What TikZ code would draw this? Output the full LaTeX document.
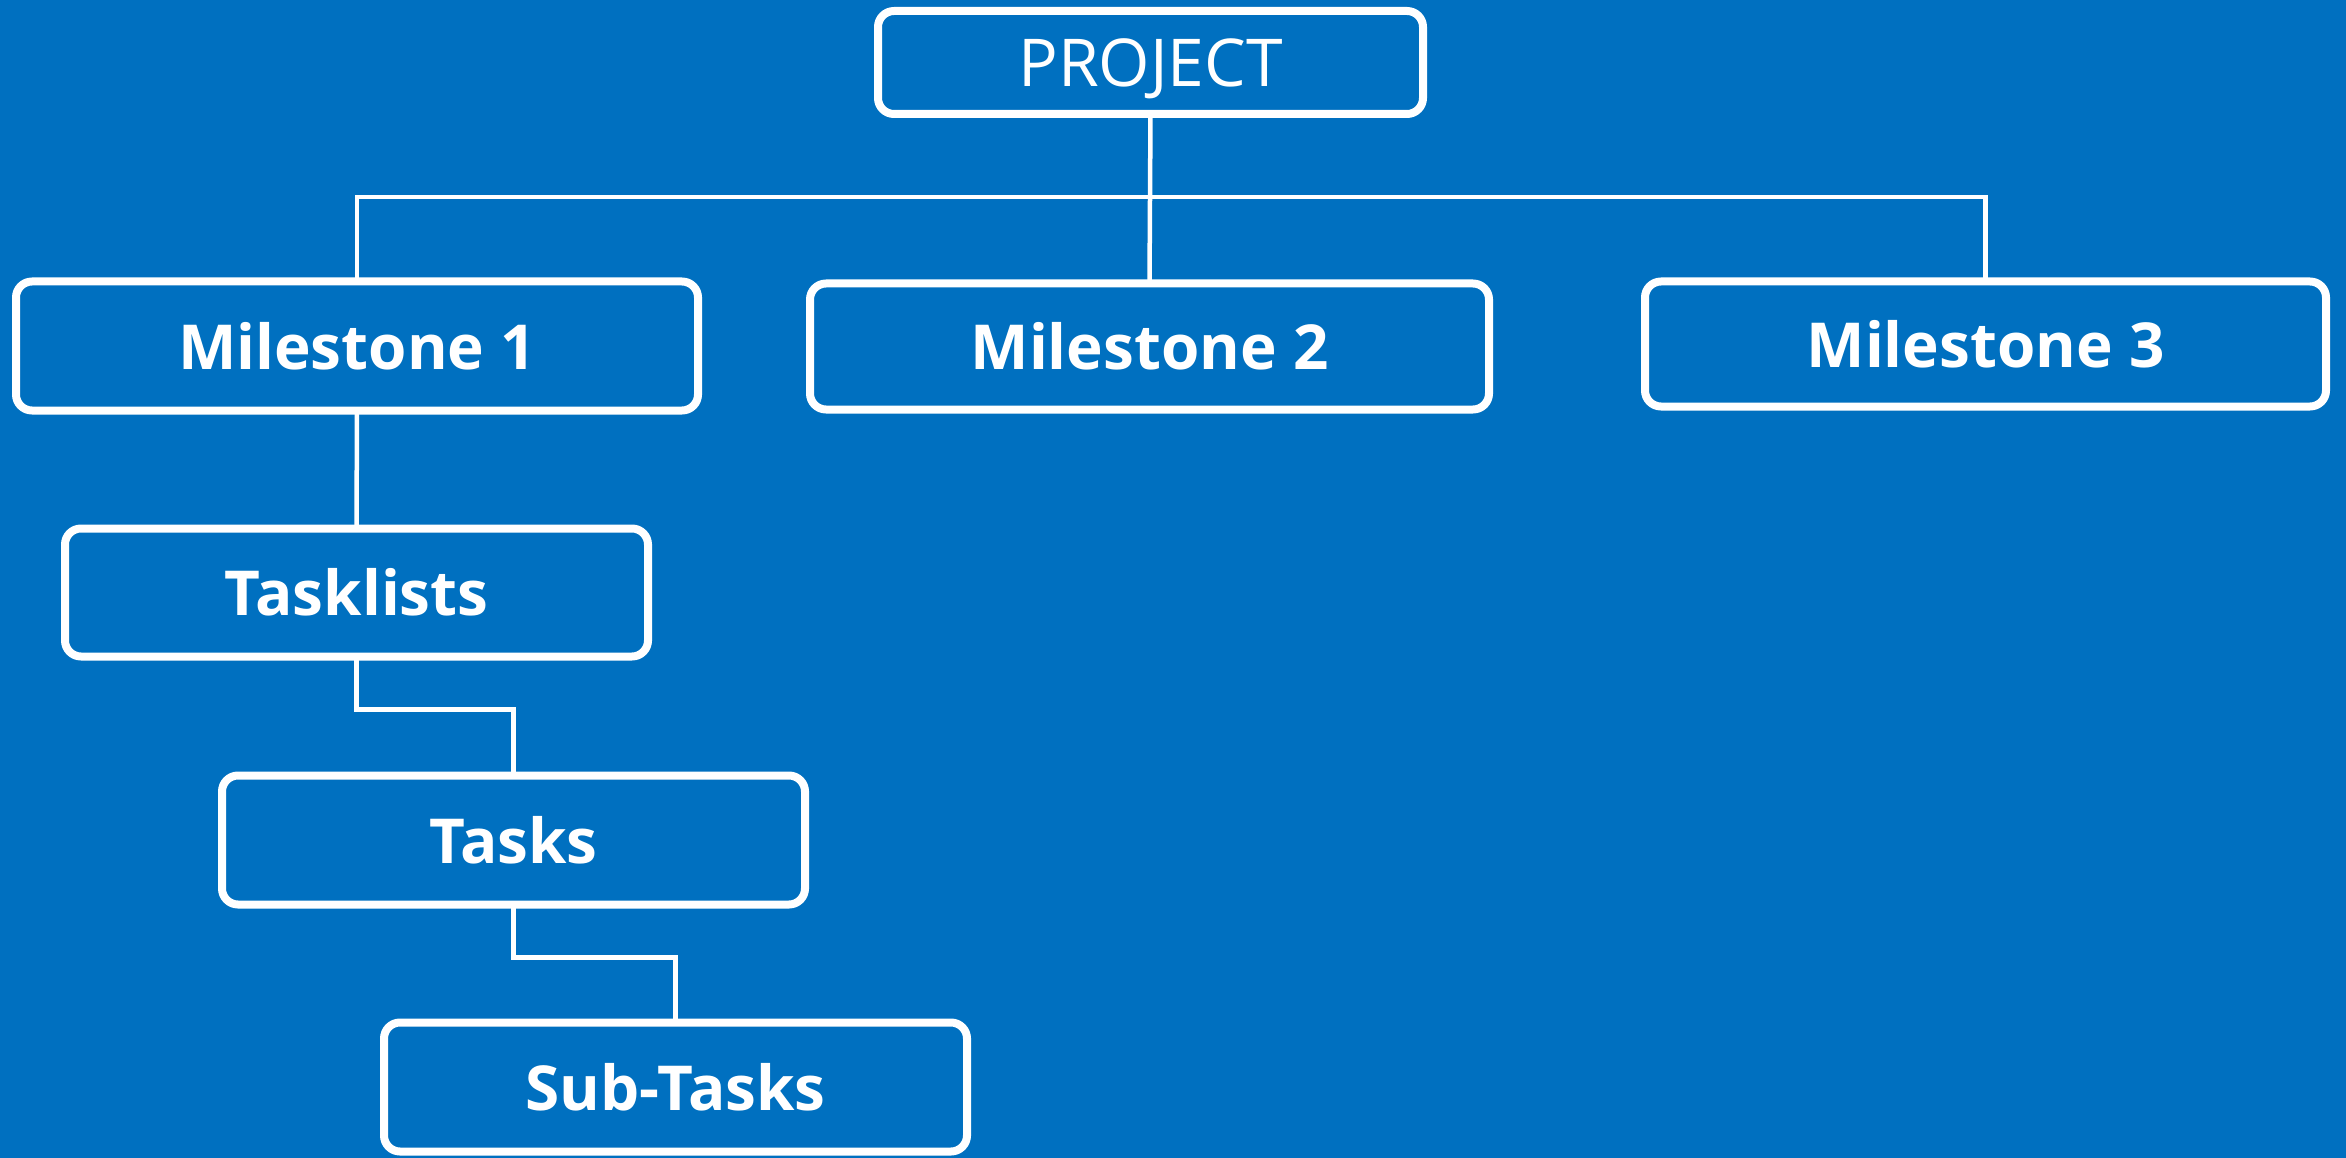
\documentclass[tikz,border=0pt]{standalone}
\usepackage{fontspec}
\setmainfont{Open Sans}
\usetikzlibrary{calc}
\definecolor{bgblue}{RGB}{0,112,192}
\begin{document}
\begin{tikzpicture}[x=1pt,y=-1pt,
  box/.style={draw=white,line width=8pt,rounded corners=16pt,fill=bgblue,text=white,inner sep=0pt,anchor=center},
  boldlbl/.style={font=\fontsize{62}{70}\selectfont\bfseries},
  wire/.style={draw=white,line width=4.5pt}]
\fill[bgblue] (0,0) rectangle (2346,1158);
\useasboundingbox (0,0) rectangle (2346,1158);
\node[box,minimum width=545pt,minimum height=103pt,text depth=0pt,font=\fontsize{66}{72}\selectfont] (proj) at (1150.5,62.5) {PROJECT};
\node[box,boldlbl,minimum width=682pt,minimum height=129pt] (m1) at (357,346) {Milestone 1};
\node[box,boldlbl,minimum width=679pt,minimum height=126pt] (m2) at (1149.5,346.5) {Milestone 2};
\node[box,boldlbl,minimum width=681pt,minimum height=125pt] (m3) at (1985.5,344) {Milestone 3};
\node[box,boldlbl,minimum width=583pt,minimum height=128pt] (tl) at (356.5,592.5) {Tasklists};
\node[box,boldlbl,minimum width=583pt,minimum height=129pt] (tk) at (513.5,840) {Tasks};
\node[box,boldlbl,minimum width=583pt,minimum height=129pt] (st) at (675.5,1087) {Sub-Tasks};
\coordinate (bus) at (1150,197);
\draw[wire] ([yshift=4pt]proj.south) -- ([yshift=-4pt]m2.north);
\draw[wire] ([yshift=-4pt]m1.north) |- (bus) -| ([yshift=-4pt]m3.north);
\draw[wire] ([yshift=4pt]m1.south) -- ([yshift=-4pt]tl.north);
\draw[wire] ([yshift=4pt]tl.south) -- ++(0,53) -| ([yshift=-4pt]tk.north);
\draw[wire] ([yshift=4pt]tk.south) -- ++(0,53) -| ([yshift=-4pt]st.north);
\end{tikzpicture}
\end{document}
